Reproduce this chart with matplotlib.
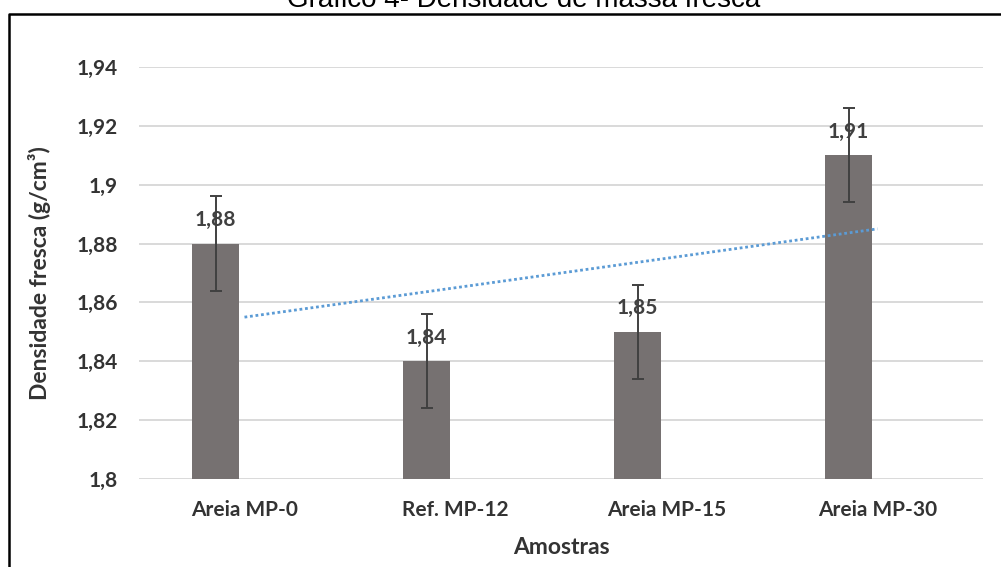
import numpy as np
import matplotlib
matplotlib.use("Agg")
import matplotlib.pyplot as plt
from matplotlib.lines import Line2D

# Chart data
amostras = ["Areia MP-0", "Ref. MP-12", "Areia MP-15", "Areia MP-30"]
densidade = [1.88, 1.84, 1.85, 1.91]
desvio = [0.016, 0.016, 0.016, 0.016]
rotulos = ["1,88", "1,84", "1,85", "1,91"]
yticks = [1.80, 1.82, 1.84, 1.86, 1.88, 1.90, 1.92, 1.94]
ytick_labels = ["1,8", "1,82", "1,84", "1,86", "1,88", "1,9", "1,92", "1,94"]

W, H = 1001, 567
fig = plt.figure(figsize=(W / 100, H / 100), dpi=100)
ax = fig.add_axes([139 / W, 1 - 479 / H, (983 - 139) / W, (479 - 67) / H])

font = "Lato"
txt_color = "#333333"

x = np.arange(len(amostras))
bar_x = x - 0.137

# bars with error bars
ax.bar(bar_x, [d - 1.8 for d in densidade], bottom=1.8, width=0.223,
       color="#767171", zorder=3)
ax.errorbar(bar_x, densidade, yerr=desvio, fmt="none", ecolor="#404040",
            elinewidth=1.4, capsize=4.5, capthick=1.4, zorder=4)

# data labels
for xi, yi, lab in zip(bar_x, densidade, rotulos):
    ax.annotate(lab, (xi, yi), xytext=(0, 17), textcoords="offset points",
                ha="center", va="center", fontsize=15, fontweight="bold",
                color="#404040", family=font, zorder=5)

# linear trendline
coef = np.polyfit(x, densidade, 1)
ax.plot(x, np.polyval(coef, x), color="#5B9BD5", lw=2.0,
        linestyle=(0, (1, 1)), zorder=4)

ax.set_xlim(-0.5, 3.5)
ax.set_ylim(1.8, 1.94)
ax.set_yticks(yticks)
ax.set_yticklabels(ytick_labels)
ax.set_xticks(x)
ax.set_xticklabels(amostras)
ax.grid(axis="y", color="#D9D9D9", lw=1.4, zorder=0)
for s in ax.spines.values():
    s.set_visible(False)
ax.tick_params(length=0)
ax.tick_params(axis="y", pad=15)
ax.tick_params(axis="x", pad=15)
for lab in ax.get_xticklabels() + ax.get_yticklabels():
    lab.set_fontfamily(font)
    lab.set_fontsize(15)
    lab.set_fontweight("bold")
    lab.set_color(txt_color)

fig.text(40 / W, 1 - 273 / H, "Densidade fresca (g/cm³)", rotation=90,
         ha="center", va="center", fontsize=16.5, fontweight="bold",
         family=font, color=txt_color)
fig.text(561 / W, 1 - 548 / H, "Amostras", ha="center", va="center",
         fontsize=16.5, fontweight="bold", family=font, color=txt_color)

# title (cut off at top) and outer frame
fig.text(524 / W, 1 - 7 / H, "Gráfico 4- Densidade de massa fresca",
         ha="center", va="baseline", fontsize=20, family="Liberation Sans",
         color="black")
fig.add_artist(Line2D([8.5 / W, 8.5 / W, 1], [0, 1 - 14 / H, 1 - 14 / H],
                      color="black", lw=1.8, transform=fig.transFigure))

fig.savefig("out.png", dpi=100)
